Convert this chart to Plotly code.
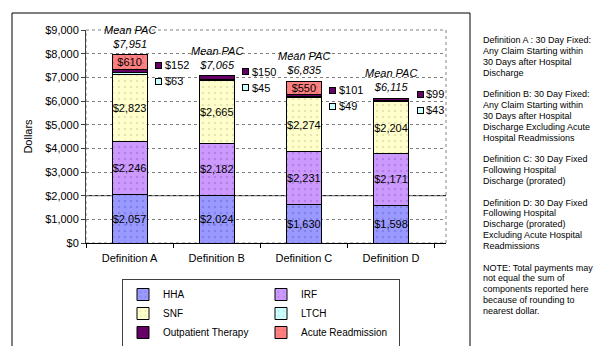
import plotly.graph_objects as go

categories = ["Definition A", "Definition B", "Definition C", "Definition D"]
hha = [2057, 2024, 1630, 1598]
irf = [2246, 2182, 2231, 2171]
snf = [2823, 2665, 2274, 2204]
ltch = [63, 45, 49, 43]
outpatient = [152, 150, 101, 99]
acute = [610, 0, 550, 0]
mean_pac = [7951, 7065, 6835, 6115]

notes = [
    "Definition A : 30 Day Fixed:",
    "Any Claim Starting within",
    "30 Days after Hospital",
    "Discharge",
    "",
    "Definition B: 30 Day Fixed:",
    "Any Claim Starting within",
    "30 Days after Hospital",
    "Discharge Excluding Acute",
    "Hospital Readmissions",
    "",
    "Definition C: 30 Day Fixed",
    "Following Hospital",
    "Discharge (prorated)",
    "",
    "Definition D: 30 Day Fixed",
    "Following Hospital",
    "Discharge (prorated)",
    "Excluding Acute Hospital",
    "Readmissions",
    "",
    "NOTE: Total payments may",
    "not equal the sum of",
    "components reported here",
    "because of rounding to",
    "nearest dollar.",
]

FONT = "Liberation Sans, Arial, sans-serif"
W, H = 613, 346
L, R, T, B = 78, 175, 22, 111
PW, PH = W - L - R, H - T - B


def px_x(px):
    return (px - L) / PW


def px_y(py):
    return (H - B - py) / PH


def money(v):
    return f"${v:,}"


series = [
    ("HHA", hha, "#9999FF", "#6666CC", True),
    ("IRF", irf, "#CC99FF", "#9966CC", True),
    ("SNF", snf, "#FFFFCC", "#CCCC99", True),
    ("LTCH", ltch, "#CCFFFF", "#99CCCC", False),
    ("Outpatient Therapy", outpatient, "#660066", "#660066", False),
    ("Acute Readmission", acute, "#FF8080", "#CC6666", True),
]

fig = go.Figure()
for name, vals, color, dots, labelled in series:
    text = [money(v) if (labelled and v > 0) else "" for v in vals]
    fig.add_trace(go.Bar(
        x=categories, y=vals, name=name, width=0.4,
        marker=dict(color=color, line=dict(color="black", width=1),
                    pattern=dict(shape=".", fgcolor=dots, bgcolor=color, size=6, solidity=0.12)),
        text=text, textposition="inside", insidetextanchor="middle", textangle=0,
        textfont=dict(family=FONT, size=11, color="black"),
        constraintext="none", hoverinfo="name+y",
    ))

annotations = []
for i, cat in enumerate(categories):
    annotations.append(dict(
        x=cat, y=mean_pac[i], xref="x", yref="y", yanchor="bottom", yshift=3,
        text=f"<i>Mean PAC<br>{money(mean_pac[i])}</i>", showarrow=False,
        font=dict(family=FONT, size=11, color="black"),
    ))
    top_op = hha[i] + irf[i] + snf[i] + ltch[i] + outpatient[i]
    for val, color, dy in [(outpatient[i], "#660066", 4), (ltch[i], "#CCFFFF", -12)]:
        annotations.append(dict(
            x=cat, y=top_op, xref="x", yref="y", xshift=29, yshift=dy,
            text=" ", showarrow=False, width=5, height=5,
            bgcolor=color, bordercolor="black", borderwidth=1, borderpad=0,
            font=dict(size=4),
        ))
        annotations.append(dict(
            x=cat, y=top_op, xref="x", yref="y", xshift=33, yshift=dy,
            xanchor="left", text=money(val), showarrow=False,
            font=dict(family=FONT, size=11, color="black"),
        ))

for k, line in enumerate(notes):
    if not line:
        continue
    annotations.append(dict(
        x=px_x(473), y=px_y(32 + k * 10.84), xref="paper", yref="paper",
        xanchor="left", yanchor="middle", text=line, showarrow=False,
        font=dict(family=FONT, size=9, color="black"),
    ))

shapes = [
    dict(type="rect", xref="paper", yref="paper", x0=px_x(4), x1=px_x(462),
         y0=px_y(342), y1=px_y(5), line=dict(color="black", width=1)),
    dict(type="rect", xref="paper", yref="paper", x0=0, x1=1, y0=0, y1=1,
         line=dict(color="#808080", width=1, dash="dot"), layer="below"),
    # the $2,000 gridline is drawn solid in the original
    dict(type="line", xref="paper", yref="y", x0=0, x1=1, y0=2000, y1=2000,
         line=dict(color="black", width=1), layer="below"),
    dict(type="line", xref="paper", yref="paper", x0=px_x(611.5), x1=px_x(611.5),
         y0=px_y(302), y1=px_y(28), line=dict(color="#B0B0B0", width=1, dash="dot")),
]

fig.update_layout(
    width=W, height=H, barmode="stack",
    margin=dict(l=L, r=R, t=T, b=B, autoexpand=False),
    paper_bgcolor="white", plot_bgcolor="white",
    font=dict(family=FONT, size=11, color="black"),
    annotations=annotations, shapes=shapes,
    legend=dict(
        orientation="h", x=px_x(114), y=px_y(271), xanchor="left", yanchor="top",
        bordercolor="#404040", borderwidth=1, bgcolor="white",
        entrywidth=93, itemwidth=30, traceorder="normal", tracegroupgap=0,
        font=dict(family=FONT, size=10, color="black"),
    ),
    xaxis=dict(
        showline=True, linecolor="black", linewidth=1,
        ticks="outside", ticklen=4, tickcolor="black", tickson="boundaries",
        tickfont=dict(family=FONT, size=11), showgrid=False, automargin=False,
        ticklabelstandoff=5,
    ),
    yaxis=dict(
        range=[0, 9000], dtick=1000, tickprefix="$", tickformat=",",
        showline=True, linecolor="#404040", linewidth=1,
        ticks="outside", ticklen=4, tickcolor="#404040",
        showgrid=True, gridcolor="#808080", griddash="dot", gridwidth=1,
        tickfont=dict(family=FONT, size=11), automargin=False,
        title=dict(text="Dollars", standoff=10, font=dict(family=FONT, size=11)),
        zeroline=False,
    ),
)

fig.write_html("out.html")
